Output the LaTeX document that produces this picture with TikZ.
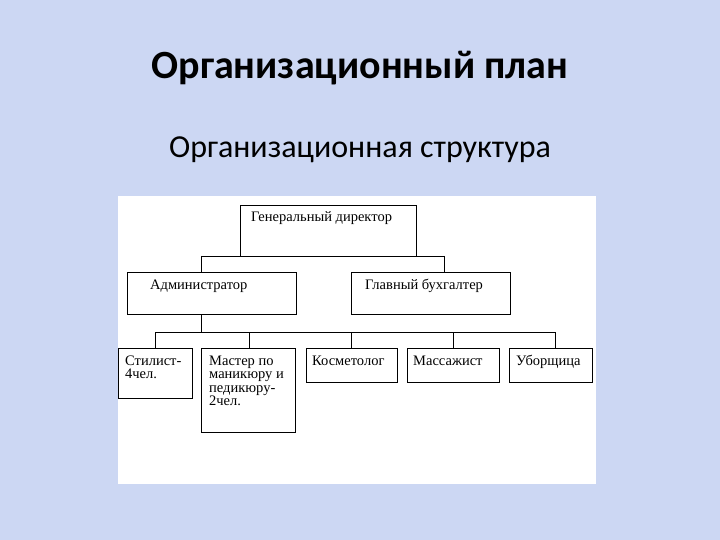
\documentclass[tikz,border=0pt]{standalone}
\usepackage{fontspec}
\setmainfont{Liberation Serif}
\newfontfamily\calfont{Carlito}
\definecolor{bgblue}{RGB}{204,215,243}
\newcommand{\stacklines}[1]{\vtop{\halign{##\hfil\cr#1\crcr}}}
\tikzset{
  box/.style={draw=black, line width=0.8pt, fill=white, anchor=north west, inner sep=0pt},
  lbl/.style={anchor=base west, inner sep=0pt, font=\fontsize{14.5bp}{13.6bp}\selectfont},
  conn/.style={draw=black, line width=0.8pt},
}
\begin{document}
\begin{tikzpicture}[x=1bp,y=-1bp]
\useasboundingbox (0,0) rectangle (720,540);
\fill[bgblue] (0,0) rectangle (720,540);
\node[anchor=base, inner sep=0pt, font=\calfont\bfseries\fontsize{40bp}{42bp}\selectfont] (title) at (360,79) {Организационный план};
\node[anchor=base, inner sep=0pt, font=\calfont\fontsize{32bp}{34bp}\selectfont] (subtitle) at (360,158) {Организационная структура};
\fill[white] (118,196) rectangle (596,484);
% boxes
\node[box, minimum width=176bp, minimum height=51bp] (dir) at (240,205) {};
\node[box, minimum width=169bp, minimum height=42bp] (adm) at (127,272) {};
\node[box, minimum width=159bp, minimum height=42bp] (acc) at (351,272) {};
\node[box, minimum width=74bp, minimum height=50bp] (sty) at (118,348) {};
\node[box, minimum width=94bp, minimum height=84bp] (man) at (201,348) {};
\node[box, minimum width=91bp, minimum height=34bp] (cos) at (306,348) {};
\node[box, minimum width=92bp, minimum height=34bp] (mas) at (407,348) {};
\node[box, minimum width=83bp, minimum height=34bp] (cle) at (509,348) {};
% labels
\node[lbl] (tdir) at (251,222) {Генеральный директор};
\node[lbl] (tadm) at (150,289) {Администратор};
\node[lbl] (tacc) at (365,289) {Главный бухгалтер};
\node[lbl] (tsty) at (125,365) {\stacklines{Стилист-\cr 4чел.}};
\node[lbl] (tman) at (209,365) {\stacklines{Мастер по\cr маникюру и\cr педикюру-\cr 2чел.}};
\node[lbl] (tcos) at (312,365) {Косметолог};
\node[lbl] (tmas) at (413,365) {Массажист};
\node[lbl] (tcle) at (516,365) {Уборщица};
% connectors
\coordinate (ja) at (201,256);
\coordinate (jb) at (444,256);
\draw[conn] (ja) -- (jb);
\draw[conn] (ja) -- (ja |- adm.north);
\draw[conn] (jb) -- (jb |- acc.north);
\coordinate (jc) at (201,332);
\draw[conn] (jc |- adm.south) -- (jc);
\coordinate (k1) at (155,332);
\coordinate (k2) at (249,332);
\coordinate (k3) at (351,332);
\coordinate (k4) at (453,332);
\coordinate (k5) at (555,332);
\draw[conn] (k1) -- (k5);
\draw[conn] (k1) -- (k1 |- sty.north);
\draw[conn] (k2) -- (k2 |- man.north);
\draw[conn] (k3) -- (k3 |- cos.north);
\draw[conn] (k4) -- (k4 |- mas.north);
\draw[conn] (k5) -- (k5 |- cle.north);
\end{tikzpicture}
\end{document}
